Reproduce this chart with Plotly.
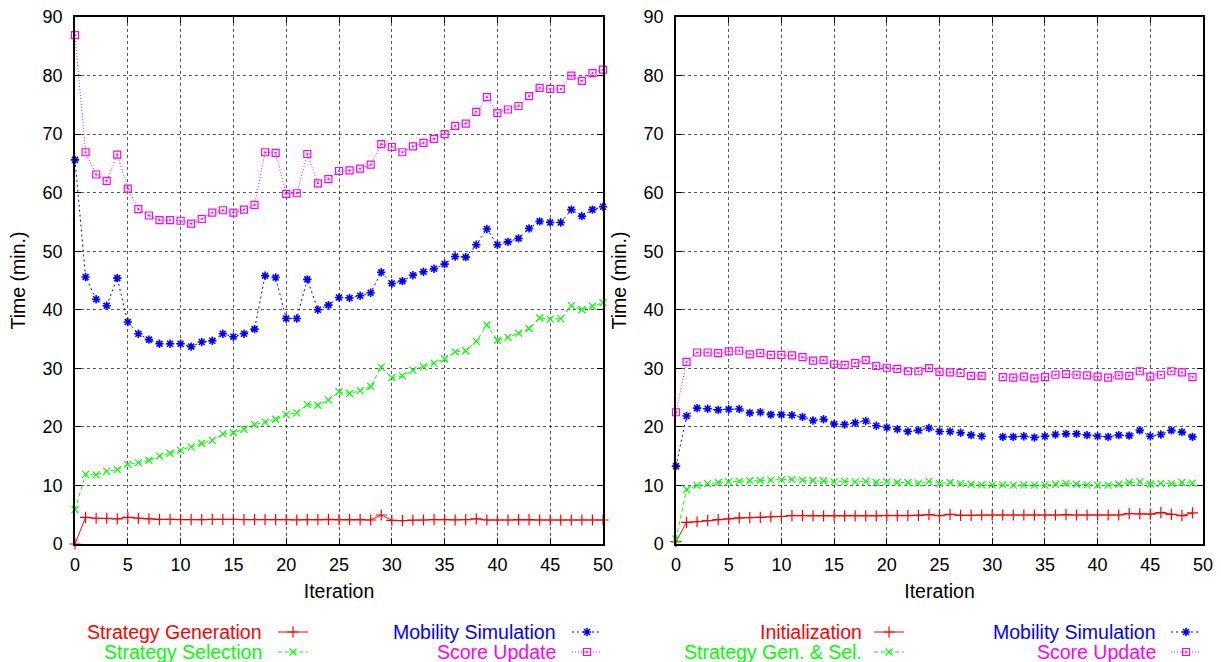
import plotly.graph_objects as go

# ---------------- data ----------------
ITER_LEFT = list(range(0, 51))
ITER_RIGHT = list(range(0, 50))

LEFT_NAMES = ["Strategy Generation", "Strategy Selection", "Mobility Simulation", "Score Update"]
RIGHT_NAMES = ["Initialization", "Strategy Gen. & Sel.", "Mobility Simulation", "Score Update"]

left_generation = [0, 4.55, 4.4, 4.4, 4.3, 4.55, 4.4, 4.3, 4.2, 4.2, 4.15, 4.15, 4.15, 4.2, 4.2, 4.2,
                   4.15, 4.15, 4.15, 4.15, 4.15, 4.1, 4.15, 4.15, 4.2, 4.15, 4.15, 4.15, 4.1, 4.95,
                   4.05, 4.0, 4.1, 4.1, 4.15, 4.15, 4.1, 4.15, 4.3, 4.1, 4.1, 4.1, 4.15, 4.15, 4.1,
                   4.1, 4.1, 4.1, 4.1, 4.1, 4.1]
left_selection = [5.85, 11.9, 11.8, 12.4, 12.7, 13.6, 13.9, 14.3, 15.0, 15.5, 16.0, 16.6, 17.2, 17.7,
                  18.8, 19.0, 19.6, 20.4, 20.8, 21.3, 22.1, 22.4, 23.8, 23.7, 24.6, 26.0, 25.7, 26.2,
                  26.9, 30.2, 28.4, 28.7, 29.7, 30.3, 30.9, 31.6, 32.8, 33.0, 34.6, 37.4, 34.8, 35.3,
                  36.0, 36.8, 38.6, 38.4, 38.5, 40.7, 40.0, 40.6, 41.2]
left_mobility = [65.6, 45.6, 41.8, 40.7, 45.4, 37.9, 35.9, 34.9, 34.2, 34.2, 34.2, 33.7, 34.5, 34.7,
                 35.9, 35.4, 35.9, 36.7, 45.8, 45.5, 38.5, 38.5, 45.2, 40.0, 40.8, 42.1, 42.0, 42.4,
                 42.9, 46.4, 44.5, 44.9, 45.9, 46.5, 47.0, 47.8, 49.1, 49.0, 51.1, 53.8, 51.1, 51.6,
                 52.2, 53.9, 55.1, 54.9, 54.9, 57.1, 56.0, 57.1, 57.6]
left_score = [86.9, 66.9, 63.1, 62.0, 66.5, 60.7, 57.2, 56.1, 55.3, 55.3, 55.2, 54.7, 55.5, 56.6,
              57.0, 56.6, 57.1, 57.9, 66.9, 66.8, 59.8, 59.9, 66.6, 61.6, 62.3, 63.7, 63.8, 64.1,
              64.8, 68.3, 67.8, 66.9, 67.9, 68.5, 69.2, 70.0, 71.4, 71.8, 73.8, 76.3, 73.6, 74.2,
              74.8, 76.5, 77.9, 77.7, 77.7, 80.0, 79.1, 80.4, 81.0]

right_init = [0.4, 3.7, 3.8, 4.0, 4.15, 4.3, 4.45, 4.5, 4.55, 4.65, 4.7, 4.85, 4.85, 4.8, 4.8, 4.8,
              4.8, 4.8, 4.8, 4.8, 4.85, 4.85, 4.85, 4.9, 5.0, 4.85, 5.05, 4.9, 4.9, 4.95, 4.95, 4.95,
              4.95, 4.95, 4.95, 4.95, 4.95, 5.0, 4.95, 4.95, 4.95, 4.95, 4.95, 5.2, 5.15, 5.1, 5.35,
              5.05, 4.85, 5.3]
right_gensel = [0.85, 9.3, 10.0, 10.3, 10.5, 10.6, 10.7, 10.8, 10.85, 10.9, 11.0, 11.0, 10.9, 10.85,
                10.8, 10.6, 10.7, 10.6, 10.7, 10.5, 10.6, 10.5, 10.5, 10.4, 10.7, 10.35, 10.5, 10.3,
                10.2, 10.1, 10.1, 10.1, 10.05, 10.1, 10.05, 10.05, 10.2, 10.35, 10.2, 10.1, 10.05,
                10.05, 10.2, 10.5, 10.6, 10.25, 10.35, 10.3, 10.5, 10.4]
right_mobility = [13.3, 21.85, 23.2, 23.1, 22.9, 23.0, 23.05, 22.4, 22.5, 22.1, 22.1, 22.0, 21.7, 21.1,
                  21.3, 20.5, 20.4, 20.7, 21.0, 20.2, 19.9, 19.6, 19.2, 19.4, 19.8, 19.2, 19.2, 19.0,
                  18.6, 18.4, None, 18.3, 18.3, 18.4, 18.2, 18.4, 18.7, 18.8, 18.8, 18.6, 18.4, 18.3,
                  18.6, 18.5, 19.4, 18.4, 18.7, 19.4, 19.1, 18.3]
right_score = [22.5, 31.1, 32.7, 32.7, 32.6, 32.9, 33.0, 32.4, 32.6, 32.3, 32.3, 32.2, 31.9, 31.3,
               31.4, 30.7, 30.6, 30.9, 31.4, 30.4, 30.1, 29.9, 29.5, 29.5, 30.05, 29.4, 29.3, 29.2,
               28.7, 28.7, None, 28.5, 28.4, 28.6, 28.3, 28.5, 28.9, 29.0, 28.9, 28.8, 28.6, 28.4,
               28.8, 28.7, 29.5, 28.6, 28.9, 29.5, 29.3, 28.5]

Y_TICKS = [0, 10, 20, 30, 40, 50, 60, 70, 80, 90]
X_TICKS = [0, 5, 10, 15, 20, 25, 30, 35, 40, 45, 50]

# ---------------- styles ----------------
COLORS = ["#ff0000", "#00ff00", "#0000ff", "#ff00ff"]
SYMBOLS = ["cross-thin", "x-thin", "asterisk", "square-open-dot"]
SIZES = [8, 7, 7, 7]
MARKER_LW = [1.2, 1.2, 1.6, 1.2]
DASHES = ["solid", "4px,3px", "2px,3px", "1px,2px"]
FONT = "Liberation Sans, Arial, Helvetica, sans-serif"
LABEL_SIZE = 19.5
TICK_SIZE = 18

W, H = 1221, 662
ML, MR, MT, MB = 75, 18, 17, 118
PW = W - ML - MR
PH = H - MT - MB
LEFT_DOMAIN = [0, (603 - ML) / PW]
RIGHT_DOMAIN = [(676 - ML) / PW, 1]

fig = go.Figure()

# legend sample placement (pixel centres of the sample lines, then converted to paper coords)
LEG_SAMPLE_X = [[293, 293, 587, 587], [889, 889, 1186, 1186]]
LEG_SAMPLE_Y = [632, 652, 632, 652]
LEG_TEXT_RIGHT = [[264, 264, 558, 558], [864, 864, 1158, 1158]]

def px_to_paper_x(p):
    return (p - ML) / PW

def px_to_paper_y(p):
    return (H - MB - p) / PH

panels = [
    (ITER_LEFT, [left_generation, left_selection, left_mobility, left_score], LEFT_NAMES, "x", "y"),
    (ITER_RIGHT, [right_init, right_gensel, right_mobility, right_score], RIGHT_NAMES, "x2", "y2"),
]

leg_idx = 0
layout_legends = {}
annotations = []
for pi, (xs, series, names, xa, ya) in enumerate(panels):
    for si, (ys, name) in enumerate(zip(series, names)):
        leg_idx += 1
        lname = "legend" if leg_idx == 1 else f"legend{leg_idx}"
        fig.add_trace(go.Scatter(
            x=xs, y=ys, name=" ", xaxis=xa, yaxis=ya,
            mode="lines+markers", connectgaps=False, cliponaxis=False,
            line=dict(color=COLORS[si], width=1, dash=DASHES[si]),
            marker=dict(symbol=SYMBOLS[si], size=SIZES[si], color=COLORS[si],
                        line=dict(color=COLORS[si], width=MARKER_LW[si])),
            legend=lname, showlegend=True,
        ))
        layout_legends[lname] = dict(
            x=px_to_paper_x(LEG_SAMPLE_X[pi][si] - 20),
            y=px_to_paper_y(LEG_SAMPLE_Y[si]),
            xanchor="left", yanchor="middle",
            bgcolor="rgba(0,0,0,0)", borderwidth=0,
            itemwidth=30, font=dict(size=4, family=FONT),
            tracegroupgap=0, itemclick=False, itemdoubleclick=False,
        )
        annotations.append(dict(
            xref="paper", yref="paper",
            x=px_to_paper_x(LEG_TEXT_RIGHT[pi][si]), y=px_to_paper_y(LEG_SAMPLE_Y[si]),
            xanchor="right", yanchor="middle", showarrow=False,
            text=name, font=dict(size=LABEL_SIZE, family=FONT, color=COLORS[si]),
        ))

axis_common = dict(
    showline=True, linecolor="black", linewidth=1.5, mirror="ticks",
    ticks="inside", ticklen=6, tickcolor="black", tickwidth=1,
    showgrid=True, gridcolor="rgba(0,0,0,0.65)", gridwidth=1, griddash="dot",
    zeroline=False, tickfont=dict(size=TICK_SIZE, family=FONT, color="black"),
)

xcommon = dict(axis_common, range=[0, 50], tickvals=X_TICKS, ticklabelstandoff=4,
               title=dict(text="Iteration", font=dict(size=LABEL_SIZE, family=FONT, color="black"), standoff=10))
ycommon = dict(axis_common, range=[0, 90], tickvals=Y_TICKS, ticklabelstandoff=7,
               title=dict(text="Time (min.)", font=dict(size=LABEL_SIZE, family=FONT, color="black"), standoff=12))

fig.update_layout(
    width=W, height=H,
    margin=dict(l=ML, r=MR, t=MT, b=MB, autoexpand=False),
    paper_bgcolor="white", plot_bgcolor="white",
    font=dict(family=FONT, size=18, color="black"),
    xaxis=dict(xcommon, domain=LEFT_DOMAIN, anchor="y"),
    yaxis=dict(ycommon, domain=[0, 1], anchor="x"),
    xaxis2=dict(xcommon, domain=RIGHT_DOMAIN, anchor="y2"),
    yaxis2=dict(ycommon, domain=[0, 1], anchor="x2"),
    annotations=annotations,
    **layout_legends,
)

fig.write_html("out.html", config={"displayModeBar": False},
               post_script="document.body.style.margin='0';document.body.style.overflow='hidden';")
